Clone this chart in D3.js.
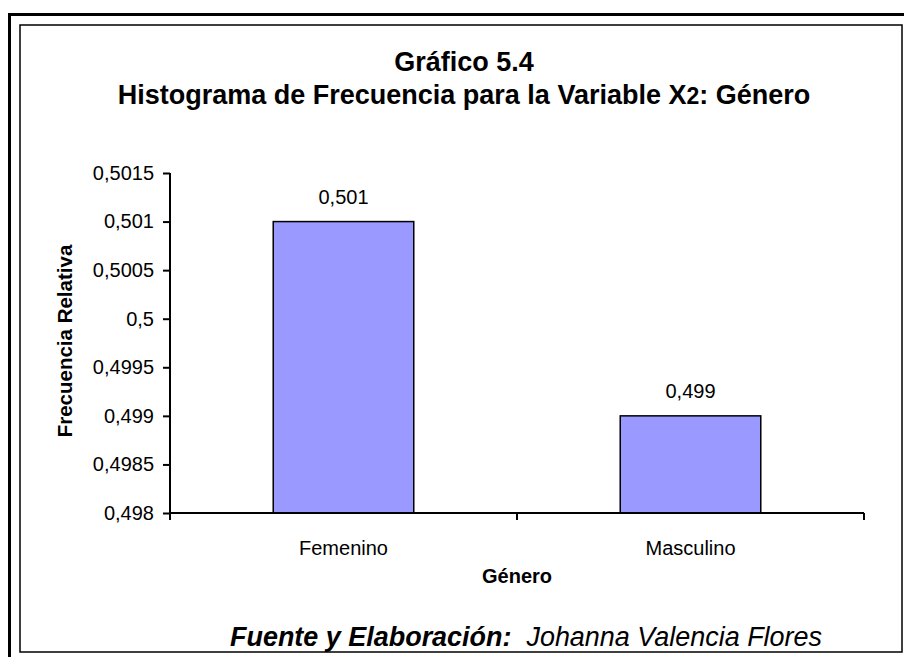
<!DOCTYPE html>
<meta charset="utf-8">
<script src="https://cdn.jsdelivr.net/npm/d3@7"></script>
<style>
  body { margin: 0; background: #fff; }
  text { font-family: "Liberation Sans", Arial, sans-serif; fill: #000; }
</style>
<div id="chart"></div>
<script>
    // data
    var categories = ["Femenino", "Masculino"];
    var values = [0.501, 0.499];
    var valueLabels = ["0,501", "0,499"];
    var tickValues = [0.498, 0.4985, 0.499, 0.4995, 0.5, 0.5005, 0.501, 0.5015];
    var tickLabels = ["0,498", "0,4985", "0,499", "0,4995", "0,5", "0,5005", "0,501", "0,5015"];

    var W = 904, H = 657;
    var margin = {top: 173, right: 40, bottom: 144, left: 170},
        width = 864 - margin.left,
        height = 513 - margin.top;

    var svg = d3.select("#chart")
      .append("svg")
        .attr("width", W)
        .attr("height", H);

    // double frame
    svg.append("rect")
        .attr("x", 9.5).attr("y", 14.5)
        .attr("width", W + 20).attr("height", H + 20)
        .attr("fill", "none").attr("stroke", "#000").attr("stroke-width", 3);
    svg.append("rect")
        .attr("x", 20).attr("y", 25)
        .attr("width", 882).attr("height", 627)
        .attr("fill", "none").attr("stroke", "#000").attr("stroke-width", 1.5);

    // titles
    svg.append("text")
        .attr("x", 464).attr("y", 71)
        .attr("text-anchor", "middle")
        .attr("font-weight", "bold").attr("font-size", "27px")
        .text("Gráfico 5.4");
    var t2 = svg.append("text")
        .attr("x", 464).attr("y", 104)
        .attr("text-anchor", "middle")
        .attr("font-weight", "bold").attr("font-size", "27px");
    t2.append("tspan").text("Histograma de Frecuencia para la Variable X");
    t2.append("tspan").attr("font-size", "23px").text("2");
    t2.append("tspan").text(": Género");

    var g = svg.append("g")
        .attr("transform", "translate(" + margin.left + "," + margin.top + ")");

    var x = d3.scaleBand()
        .domain(categories)
        .range([0, width])
        .paddingInner(0.595)
        .paddingOuter(0.2975);

    var y = d3.scaleLinear()
        .domain([0.498, 0.5015])
        .range([height, 0]);

    // bars
    g.selectAll(".bar")
        .data(values)
        .enter()
        .append("rect")
        .attr("class", "bar")
        .attr("x", (d, i) => x(categories[i]))
        .attr("y", d => y(d))
        .attr("width", x.bandwidth())
        .attr("height", d => height - y(d))
        .attr("fill", "#9999ff")
        .attr("stroke", "#000")
        .attr("stroke-width", 1.5);

    // value labels
    g.selectAll(".lbl")
        .data(values)
        .enter()
        .append("text")
        .attr("x", (d, i) => x(categories[i]) + x.bandwidth() / 2)
        .attr("y", d => y(d) - 18)
        .attr("text-anchor", "middle")
        .attr("font-size", "20px")
        .text((d, i) => valueLabels[i]);

    // y axis
    var yAxis = g.append("g")
        .call(d3.axisLeft(y)
            .tickValues(tickValues)
            .tickFormat((d, i) => tickLabels[i])
            .tickSize(7)
            .tickPadding(9));
    yAxis.select(".domain").attr("stroke-width", 2).attr("d", "M0," + height + "V0");
    yAxis.selectAll(".tick line").attr("stroke-width", 2);
    yAxis.selectAll("text")
        .attr("font-size", "20px")
        .attr("font-family", "'Liberation Sans', Arial, sans-serif");

    // x axis with ticks at category boundaries
    var xAxis = g.append("g")
        .attr("transform", "translate(0," + height + ")");
    xAxis.append("line")
        .attr("x1", 0).attr("x2", width)
        .attr("stroke", "#000").attr("stroke-width", 2);
    var bounds = [0].concat(categories.map(c => x(c) + x.bandwidth() / 2 + x.step() / 2));
    xAxis.selectAll(".xt")
        .data(bounds)
        .enter()
        .append("line")
        .attr("x1", d => d).attr("x2", d => d)
        .attr("y1", 0).attr("y2", 7)
        .attr("stroke", "#000").attr("stroke-width", 2);
    xAxis.selectAll(".xl")
        .data(categories)
        .enter()
        .append("text")
        .attr("x", d => x(d) + x.bandwidth() / 2)
        .attr("y", 42)
        .attr("text-anchor", "middle")
        .attr("font-size", "20px")
        .text(d => d);

    // axis titles
    g.append("text")
        .attr("x", width / 2).attr("y", height + 70)
        .attr("text-anchor", "middle")
        .attr("font-weight", "bold").attr("font-size", "20px")
        .text("Género");
    g.append("text")
        .attr("transform", "translate(" + (72 - margin.left) + "," + (341 - margin.top) + ") rotate(-90)")
        .attr("text-anchor", "middle")
        .attr("font-weight", "bold").attr("font-size", "20.5px")
        .text("Frecuencia Relativa");

    // source note
    var src = svg.append("text")
        .attr("x", 230).attr("y", 646)
        .attr("font-size", "27px")
        .attr("font-style", "italic")
        .attr("textLength", 592)
        .attr("lengthAdjust", "spacingAndGlyphs");
    src.append("tspan").attr("font-weight", "bold").text("Fuente y Elaboración:");
    src.append("tspan").text("\u00a0 Johanna Valencia Flores");
</script>
